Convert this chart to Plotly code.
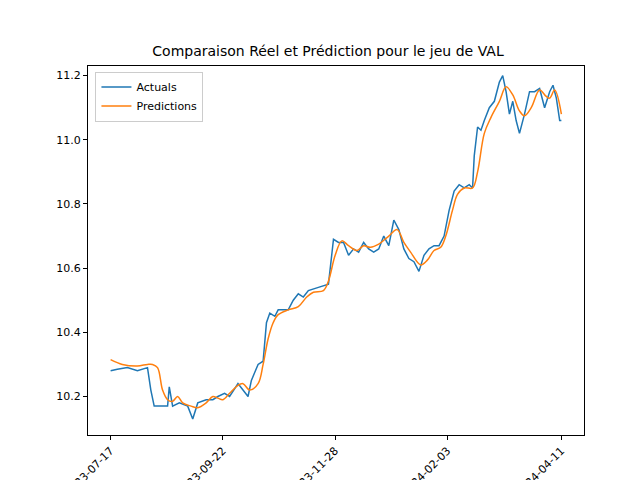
import pandas as pd
import plotly.graph_objects as go

start = pd.Timestamp("2023-07-17")

# jours depuis le début / valeurs
act_px = [103, 110, 120, 130, 140, 143, 147, 155, 160, 162, 165, 172, 180, 185, 190, 198, 205, 210, 217, 222,
          230, 235, 240, 243, 250, 255, 258, 262, 266, 270, 280, 285, 290, 295, 300, 310, 320, 325, 330, 335,
          340, 345, 350, 355, 360, 365, 370, 375, 380, 385, 390, 395, 400, 405, 410, 415, 420, 425, 430, 435,
          440, 445, 450, 455, 460, 463, 465, 468, 472, 475, 480, 485, 490, 493, 497, 500, 503, 507, 510, 515,
          520, 525, 530, 535, 540, 543, 547, 550, 552]
act_val = [10.28, 10.285, 10.29, 10.28, 10.29, 10.22, 10.17, 10.17, 10.17, 10.23, 10.17, 10.18, 10.17, 10.13, 10.18, 10.19, 10.19, 10.20, 10.21, 10.20,
           10.24, 10.22, 10.20, 10.25, 10.30, 10.31, 10.43, 10.46, 10.45, 10.47, 10.47, 10.50, 10.52, 10.51, 10.53, 10.54, 10.55, 10.69, 10.68, 10.68,
           10.64, 10.66, 10.65, 10.68, 10.66, 10.65, 10.66, 10.70, 10.67, 10.75, 10.72, 10.66, 10.63, 10.62, 10.59, 10.64, 10.66, 10.67, 10.67, 10.70,
           10.78, 10.84, 10.86, 10.85, 10.86, 10.85, 10.95, 11.04, 11.03, 11.06, 11.10, 11.12, 11.18, 11.20, 11.15, 11.08, 11.12, 11.06, 11.02, 11.08,
           11.15, 11.15, 11.16, 11.10, 11.15, 11.17, 11.13, 11.06, 11.06]

pred_px = [103, 115, 130, 140, 145, 150, 155, 160, 165, 170, 175, 183, 190, 198, 205, 210, 215, 222, 230, 235,
           242, 250, 255, 260, 265, 270, 280, 290, 298, 305, 315, 320, 326, 333, 340, 348, 355, 362, 370, 380,
           388, 395, 402, 412, 418, 425, 432, 437, 443, 448, 455, 463, 468, 475, 482, 490, 497, 503, 510, 515,
           522, 530, 537, 541, 546, 552]
pred_val = [10.315, 10.30, 10.295, 10.30, 10.30, 10.29, 10.22, 10.19, 10.185, 10.20, 10.18, 10.17, 10.165, 10.18, 10.20, 10.195, 10.19, 10.21, 10.235, 10.24,
            10.22, 10.24, 10.30, 10.38, 10.43, 10.455, 10.47, 10.48, 10.51, 10.525, 10.53, 10.56, 10.64, 10.685, 10.67, 10.655, 10.67, 10.665, 10.675, 10.70,
            10.72, 10.68, 10.65, 10.61, 10.625, 10.655, 10.665, 10.70, 10.78, 10.83, 10.85, 10.85, 10.90, 11.02, 11.07, 11.12, 11.165, 11.14, 11.09, 11.075,
            11.10, 11.155, 11.135, 11.13, 11.155, 11.08]

tick_labels = ["2023-07-17", "2023-09-22", "2023-11-28", "2024-02-03", "2024-04-11"]


def to_date(px):
    return [start + pd.Timedelta(days=round((p - 103) / 449 * 269)) for p in px]


fig = go.Figure()
fig.add_trace(go.Scatter(x=to_date(act_px), y=act_val, mode="lines", name="Actuals",
                         line=dict(color="#1f77b4", width=1.5)))
fig.add_trace(go.Scatter(x=to_date(pred_px), y=pred_val, mode="lines", name="Predictions",
                         line=dict(color="#ff7f0e", width=1.5, shape="spline")))

axis = dict(showgrid=False, zeroline=False, showline=True, mirror=True, linecolor="black",
            ticks="outside", ticklen=4, tickcolor="black")
fig.update_layout(
    width=640, height=480, plot_bgcolor="white", paper_bgcolor="white",
    font=dict(family="DejaVu Sans", size=11, color="black"),
    title=dict(text="Comparaison Réel et Prédiction pour le jeu de VAL", x=0.5, y=0.91,
               xanchor="center", yanchor="middle", font=dict(size=14)),
    margin=dict(l=80, r=64, t=58, b=53, autoexpand=False),
    showlegend=True,
    legend=dict(x=0.015, y=0.985, xanchor="left", yanchor="top", bordercolor="#cccccc",
                borderwidth=1, font=dict(size=11)),
    xaxis=dict(axis, tickvals=pd.to_datetime(tick_labels), ticktext=tick_labels, tickangle=-45,
               range=[start - pd.Timedelta(days=13.5), start + pd.Timedelta(days=282.5)]),
    yaxis=dict(axis, range=[10.08, 11.23], tickvals=[10.2, 10.4, 10.6, 10.8, 11.0, 11.2],
               tickformat=".1f"),
)

fig.write_html("out.html")
